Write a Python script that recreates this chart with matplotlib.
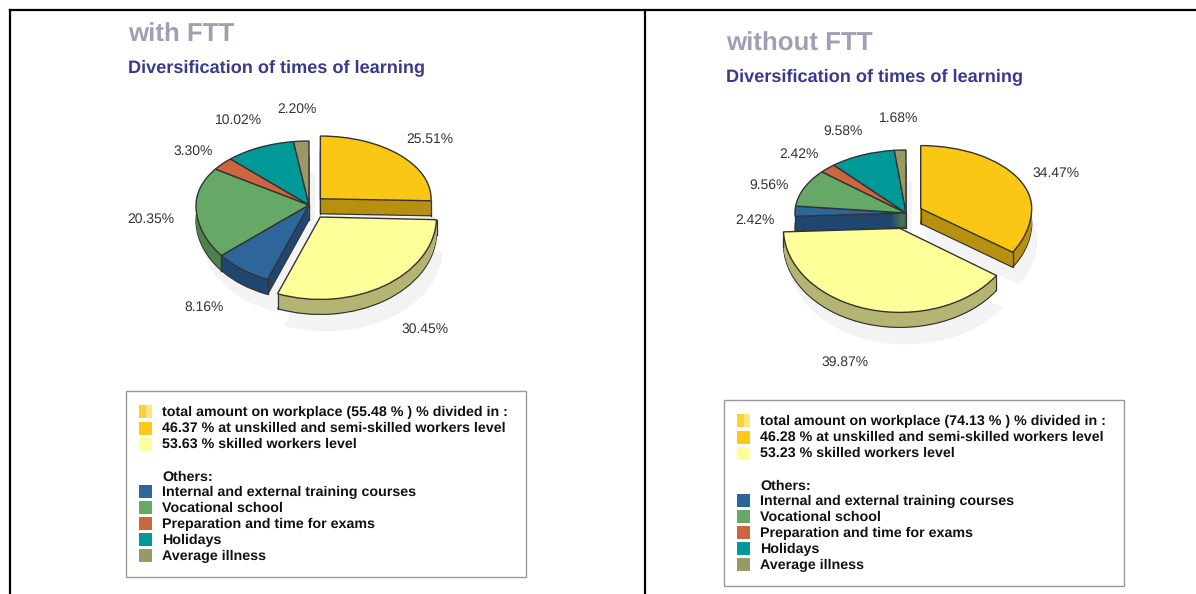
import numpy as np
import matplotlib
matplotlib.use('Agg')
import matplotlib.pyplot as plt
from matplotlib.transforms import Affine2D, IdentityTransform
from matplotlib.patches import Rectangle

W, H = 1196, 594

shares_with = [25.51, 30.45, 8.16, 20.35, 3.30, 10.02, 2.20]
shares_without = [34.47, 39.87, 2.42, 9.56, 2.42, 9.58, 1.68]
top_colors = ['#FAC814', '#FFFF99', '#2E6699', '#66A866', '#CC6640', '#009999', '#999966']
wall_colors = ['#B8900F', '#B5B573', '#1F4770', '#4D804D', '#964A2E', '#006F6F', '#70704A']
titles = ['with FTT', 'without FTT']
subtitle = 'Diversification of times of learning'

legend_with = ['total amount on workplace (55.48 % ) % divided in :',
               '46.37 % at unskilled and semi-skilled workers level',
               '53.63 % skilled workers level']
legend_without = ['total amount on workplace (74.13 % ) % divided in :',
                  '46.28 % at unskilled and semi-skilled workers level',
                  '53.23 % skilled workers level']
legend_others = ['Internal and external training courses', 'Vocational school',
                 'Preparation and time for exams', 'Holidays', 'Average illness']

plt.rcParams['font.family'] = ['Liberation Sans', 'DejaVu Sans']
plt.rcParams['text.hinting'] = 'none'

fig = plt.figure(figsize=(W / 100, H / 100), dpi=100)
bg = fig.add_axes([0, 0, 1, 1])
bg.set_xlim(0, W)
bg.set_ylim(H, 0)
bg.axis('off')

# frame lines
bg.plot([10, 10], [H, 10], color='black', lw=1.6)
bg.plot([10, W], [10, 10], color='black', lw=1.6)
bg.plot([645, 645], [10, H], color='black', lw=1.6)


def draw_pie(shares, cx, cy, rx, up, down, explode, radii, depth):
    # axes placed in pixels, y scale differs above and below the centre (fake perspective)
    left, right, over, under = 170, 170, 110, 150
    ax = fig.add_axes([(cx - left) / W, 1 - (cy + under) / H, (left + right) / W, (over + under) / H])
    ax.set_zorder(2)

    def forward(y):
        y = np.asarray(y, dtype=float)
        return np.where(y >= 0, y * up, y * down)

    def inverse(y):
        y = np.asarray(y, dtype=float)
        return np.where(y >= 0, y / up, y / down)

    def layer(colors, **props):
        wedges, _ = ax.pie(shares, explode=explode, startangle=90, counterclock=False,
                           colors=colors, wedgeprops=props)
        for w, r in zip(wedges, radii):
            w.set_radius(r)
        return wedges

    order = {1: 30, 0: 10}
    # ground shadow
    for w in layer(['#F3F3F3'] * 7, linewidth=0):
        w.set_transform(ax.transData + Affine2D().translate(6, -32))
        w.set_zorder(1)
    # side walls, one layer per pixel
    for k in range(depth, 0, -1):
        edge = '#333333' if k == depth else 'none'
        for i, w in enumerate(layer(wall_colors, linewidth=0.9, edgecolor=edge)):
            w.set_transform(ax.transData + Affine2D().translate(0, -k))
            w.set_zorder(order.get(i, 20))
    # top faces
    tops = layer(top_colors, linewidth=1.0, edgecolor='#333333')
    for i, w in enumerate(tops):
        w.set_zorder(order.get(i, 20) + 2)
    ax.set_aspect('auto')
    ax.set_yscale('function', functions=(forward, inverse))
    ax.set_xlim(-left / rx, right / rx)
    ax.set_ylim(-under / down, over / up)
    ax.axis('off')

    # vertical wall edges at the rim ends and the apex
    for i, w in enumerate(tops):
        points = []
        for a in (w.theta1, w.theta2):
            s, c = np.sin(np.radians(a)), np.cos(np.radians(a))
            if s < 0.05:
                points.append((w.center[0] + w.r * c, w.center[1] + w.r * s))
        if i in (0, 2):
            points.append(tuple(w.center))
        for p in points:
            px, py = ax.transData.transform(p)
            ax.plot([px, px], [py, py - depth], color='#333333', lw=0.9, clip_on=False,
                    transform=IdentityTransform(), zorder=order.get(i, 20) + 1)
    ax.set_xlim(-left / rx, right / rx)
    ax.set_ylim(-under / down, over / up)
    return ax


def draw_panel(x0, y0, title, shares, legend_top, label_xy, pie_args):
    bg.text(x0, y0 + 25, title, fontsize=18.6, fontweight='bold', color='#A0A0B4', va='center')
    bg.text(x0, y0 + 58, subtitle, fontsize=13.1, fontweight='bold', color='#3A3A8C', va='center')
    draw_pie(shares, **pie_args)
    for v, (lx, ly) in zip(shares, label_xy):
        bg.text(lx, ly + 1.5, f'{v:.2f}%', fontsize=10, color='#333333', ha='center', va='center', zorder=5)

    # legend box
    bx, by = x0 - 2, y0 + 381
    bg.add_patch(Rectangle((bx, by), 400, 186, fc='white', ec='#999999', lw=1.0))
    sx, tx = bx + 13, bx + 36
    rows_top = [by + 20, by + 37, by + 53]
    rows_low = [by + 100, by + 116, by + 132, by + 148, by + 164]
    bg.add_patch(Rectangle((sx, rows_top[0] - 6.5), 7, 13, fc='#FDD035', ec='none'))
    bg.add_patch(Rectangle((sx + 7, rows_top[0] - 6.5), 6, 13, fc='#FFE680', ec='none'))
    for ry, c in zip(rows_top[1:], ['#FFC814', '#FFFF99']):
        bg.add_patch(Rectangle((sx, ry - 6.5), 13, 13, fc=c, ec='none'))
    for ry, c in zip(rows_low, top_colors[2:]):
        bg.add_patch(Rectangle((sx, ry - 6.5), 13, 13, fc=c, ec='none'))
    for ry, s in zip([by + 20, by + 36, by + 52], legend_top):
        bg.text(tx, ry + 1.5, s, fontsize=10.25, fontweight='bold', color='#111111', va='center')
    bg.text(tx, by + 86, 'Others:', fontsize=10.25, fontweight='bold', color='#111111', va='center')
    for ry, s in zip(rows_low, legend_others):
        bg.text(tx, ry + 1.5, s, fontsize=10.25, fontweight='bold', color='#111111', va='center')


labels_with = [(430, 138), (425, 328), (204, 306), (151, 218), (193, 150), (238, 119), (297, 108)]
labels_without = [(1056, 172), (845, 361), (755, 219), (769, 184), (799, 153), (843, 130), (899, 117)]

draw_panel(128, 10, titles[0], shares_with, legend_with, labels_with,
           dict(cx=309, cy=205, rx=113, up=64, down=80,
                explode=[0.14, 0.18, 0, 0, 0, 0, 0], radii=[0.98, 1.03, 1, 1, 1, 1, 1], depth=15))
draw_panel(726, 19, titles[1], shares_without, legend_without, labels_without,
           dict(cx=906, cy=213, rx=111, up=63, down=80,
                explode=[0.15, 0.2, 0, 0, 0, 0, 0], radii=[1.0, 1.05, 1, 1, 1, 1, 1], depth=15))

fig.savefig('out.png', dpi=100)
